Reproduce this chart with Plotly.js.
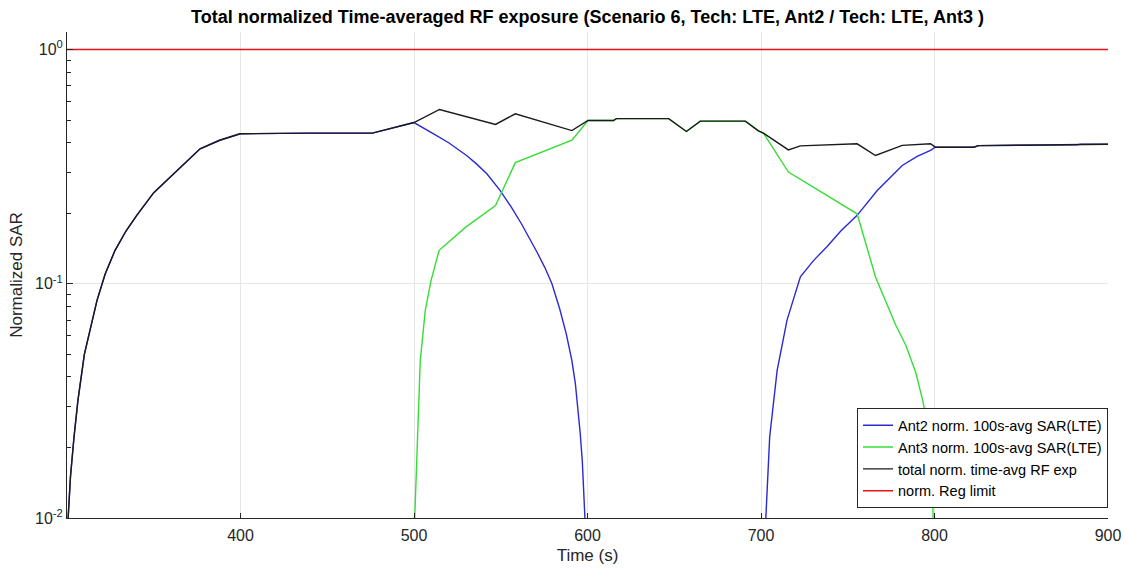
<!DOCTYPE html>
<html>
<head>
<meta charset="utf-8">
<script src="https://cdn.plot.ly/plotly-3.0.1.min.js"></script>
<style>
html,body{margin:0;padding:0;background:#fff;}
#chart{width:1125px;height:569px;}
</style>
</head>
<body>
<div id="chart"></div>
<script>
// Ant2 normalized 100s-avg SAR (LTE)
const ant2Time = [300.3, 302, 304, 306.3, 310, 317.3, 322, 327.7, 334, 340.2, 350, 359.4, 368, 376.7, 388, 399.8, 440, 476, 500,
  505, 511.3, 520, 530.5, 536, 542, 549.7, 556, 562, 567, 571, 575.5, 579.5, 584, 587.8, 591, 593, 595.8, 597, 598.8,
  null,
  702.5, 705, 709.3, 715, 722.7, 730, 738, 746, 755.4, 767, 781.4, 790, 797.7, 800.5, 822.6, 825.4, 882, 884, 900];
const ant2Val = [0.009, 0.015, 0.022, 0.0318, 0.05, 0.085, 0.11, 0.139, 0.168, 0.196, 0.245, 0.285, 0.33, 0.377, 0.41, 0.437, 0.44, 0.44, 0.488,
  0.466, 0.437, 0.40, 0.352, 0.325, 0.295, 0.25, 0.213, 0.18, 0.155, 0.136, 0.117, 0.1, 0.078, 0.061, 0.047, 0.0375, 0.023, 0.0175, 0.009,
  null,
  0.009, 0.0222, 0.0427, 0.07, 0.107, 0.125, 0.144, 0.168, 0.196, 0.25, 0.32, 0.35, 0.371, 0.383, 0.383, 0.389, 0.392, 0.394, 0.394];

// Ant3 normalized 100s-avg SAR (LTE)
const ant3Time = [500.2, 501.8, 503.6, 506.5, 509.9, 514.5, 530, 547, 558.4, 591, 600.3, 615, 616.6, 646.8, 657, 665, 691, 698.5, 701.4,
  715.8, 735, 755.4, 766, 771.7, 777.5, 783.4, 789.2, 793.2, 796.1, 798.4, 799.4];
const ant3Val = [0.009, 0.0215, 0.047, 0.077, 0.104, 0.139, 0.175, 0.216, 0.329, 0.41, 0.498, 0.498, 0.507, 0.507, 0.447, 0.495, 0.495, 0.45, 0.44,
  0.30, 0.245, 0.199, 0.107, 0.0851, 0.067, 0.0548, 0.0418, 0.0318, 0.0248, 0.0161, 0.009];

// total normalized time-averaged RF exposure
const totalTime = [300.3, 302, 304, 306.3, 310, 317.3, 322, 327.7, 334, 340.2, 350, 359.4, 368, 376.7, 388, 399.8, 440, 476, 500,
  514.7, 547, 558.4, 591, 600.3, 615, 616.6, 646.8, 657, 665, 691, 698.5, 701.4, 715.8, 722.7, 755.4, 766, 781.4, 797.7,
  800.5, 822.6, 825.4, 882, 884, 900];
const totalVal = [0.009, 0.015, 0.022, 0.0318, 0.05, 0.085, 0.11, 0.139, 0.168, 0.196, 0.245, 0.285, 0.33, 0.377, 0.41, 0.437, 0.44, 0.44, 0.488,
  0.555, 0.479, 0.532, 0.451, 0.498, 0.498, 0.507, 0.507, 0.447, 0.495, 0.495, 0.45, 0.44, 0.373, 0.388, 0.396, 0.353, 0.39, 0.396,
  0.383, 0.383, 0.389, 0.392, 0.394, 0.394];

// regulatory limit
const limitTime = [300, 900];
const limitVal = [1, 1];

const yTickVals = [0.01, 0.1, 1];
const yTickText = ['10<sup>-2</sup>', '10<sup>-1</sup>', '10<sup>0</sup>'];
const yMinorVals = [0.02, 0.03, 0.04, 0.05, 0.06, 0.07, 0.08, 0.09, 0.2, 0.3, 0.4, 0.5, 0.6, 0.7, 0.8, 0.9];
const xTickVals = [400, 500, 600, 700, 800, 900];

const traces = [
  {x: ant2Time, y: ant2Val, mode: 'lines', name: 'Ant2 norm. 100s-avg SAR(LTE)', line: {color: '#2a2ad2', width: 1.4}, connectgaps: false},
  {x: ant3Time, y: ant3Val, mode: 'lines', name: 'Ant3 norm. 100s-avg SAR(LTE)', line: {color: '#35de35', width: 1.4}},
  {x: totalTime, y: totalVal, mode: 'lines', name: 'total norm. time-avg RF exp', line: {color: '#1a1a1a', width: 1.4}},
  {x: limitTime, y: limitVal, mode: 'lines', name: 'norm. Reg limit', line: {color: '#e8111a', width: 1.4}}
];

const layout = {
  width: 1125, height: 569,
  margin: {l: 67, r: 17, t: 32, b: 51},
  paper_bgcolor: '#ffffff', plot_bgcolor: '#ffffff',
  font: {family: 'Liberation Sans, Arial, sans-serif', color: '#262626', size: 16},
  title: {text: 'Total normalized Time-averaged RF exposure (Scenario 6, Tech: LTE, Ant2 / Tech: LTE, Ant3 )',
    font: {family: 'Liberation Sans, Arial, sans-serif', size: 18, color: '#000', weight: 'bold'},
    x: 0.5, xref: 'paper', y: 1 - 17/569, yref: 'container', yanchor: 'middle'},
  showlegend: true,
  legend: {x: 1, xanchor: 'right', y: 0.02, yanchor: 'bottom', bgcolor: '#ffffff', bordercolor: '#262626', borderwidth: 1,
    font: {size: 14.5, color: '#000'}, tracegroupgap: 0},
  xaxis: {
    range: [300, 900], tickvals: xTickVals, ticks: 'inside', ticklen: 5, tickcolor: '#262626',
    showline: true, linecolor: '#262626', linewidth: 1, mirror: false,
    showgrid: true, gridcolor: '#e6e6e6', gridwidth: 1, zeroline: false,
    tickfont: {size: 16, color: '#262626'}, ticklabelstandoff: 3,
    title: {text: 'Time (s)', font: {size: 17, color: '#262626'}, standoff: 5}
  },
  yaxis: {
    type: 'log', range: [-2, 0.075], tickvals: yTickVals, ticktext: yTickText,
    ticks: 'inside', ticklen: 6, tickcolor: '#262626',
    minor: {ticks: 'inside', ticklen: 4, tickcolor: '#262626', showgrid: false, tickvals: yMinorVals},
    showline: true, linecolor: '#262626', linewidth: 1, mirror: false,
    showgrid: true, gridcolor: '#e6e6e6', gridwidth: 1, zeroline: false,
    tickfont: {size: 16, color: '#262626'},
    title: {text: 'Normalized SAR', font: {size: 17, color: '#262626'}, standoff: 8}
  }
};

Plotly.newPlot('chart', traces, layout, {displayModeBar: false, staticPlot: true});
</script>
</body>
</html>
